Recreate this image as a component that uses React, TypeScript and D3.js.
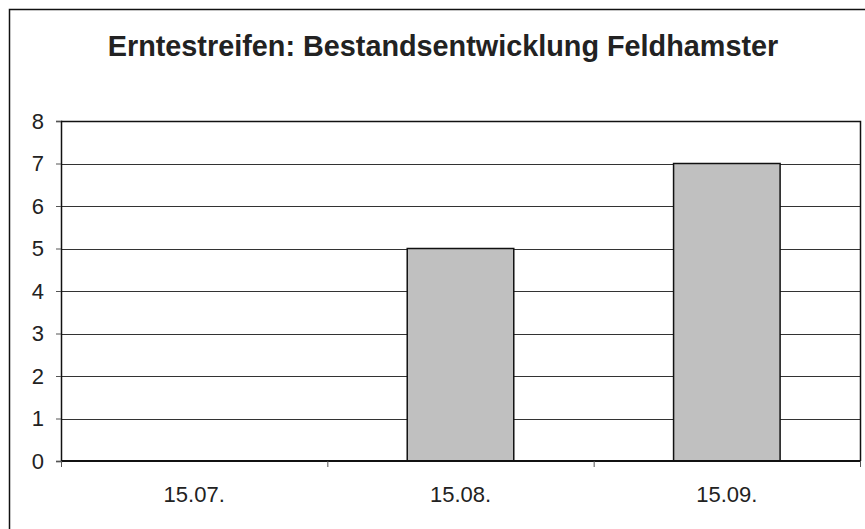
import React, { useEffect, useRef } from "react";
import * as d3 from "d3";

const categories = ["15.07.", "15.08.", "15.09."];
const values = [0, 5, 7];
const yTicks = [0, 1, 2, 3, 4, 5, 6, 7, 8];
const title = "Erntestreifen: Bestandsentwicklung Feldhamster";

const App = () => {
  const ref = useRef<SVGSVGElement>(null);

  useEffect(() => {
    const svg = d3.select(ref.current);
    svg.selectAll("*").remove();

    const width = 865;
    const height = 529;
    const left = 61;
    const right = 860;
    const top = 121;
    const bottom = 461;
    const font = "'Liberation Sans', Arial, sans-serif";

    svg.append("rect").attr("width", width).attr("height", height).attr("fill", "#fff");

    // outer chart frame
    svg
      .append("rect")
      .attr("x", 9.5)
      .attr("y", 9.5)
      .attr("width", 880)
      .attr("height", 540)
      .attr("fill", "none")
      .attr("stroke", "#111")
      .attr("stroke-width", 1.5);

    svg
      .append("text")
      .attr("x", 443)
      .attr("y", 56)
      .attr("text-anchor", "middle")
      .attr("font-family", font)
      .attr("font-weight", "bold")
      .attr("font-size", 28.8)
      .attr("fill", "#222")
      .text(title);

    const x = d3.scaleBand().domain(categories).range([left, right]).paddingInner(0.6).paddingOuter(0.3);
    const xBand = d3.scaleBand().domain(categories).range([left, right]).padding(0);
    const y = d3.scaleLinear().domain([0, 8]).range([bottom, top]);

    // gridlines
    svg
      .append("g")
      .selectAll("line")
      .data(yTicks.filter((t) => t > 0 && t < 8))
      .enter()
      .append("line")
      .attr("x1", left)
      .attr("x2", right)
      .attr("y1", (d) => Math.round(y(d)) + 0.5)
      .attr("y2", (d) => Math.round(y(d)) + 0.5)
      .attr("stroke", "#333")
      .attr("stroke-width", 1);

    // plot border top & right
    svg
      .append("path")
      .attr("d", `M${left},${top + 0.5}H${right + 0.5}V${bottom}`)
      .attr("fill", "none")
      .attr("stroke", "#111")
      .attr("stroke-width", 1.5);

    // bars
    svg
      .append("g")
      .selectAll("rect")
      .data(categories.map((c, i) => ({ c, v: values[i] })).filter((d) => d.v > 0))
      .enter()
      .append("rect")
      .attr("x", (d) => x(d.c)!)
      .attr("y", (d) => y(d.v))
      .attr("width", x.bandwidth())
      .attr("height", (d) => y(0) - y(d.v))
      .attr("fill", "#c0c0c0")
      .attr("stroke", "#111")
      .attr("stroke-width", 1.5);

    // y axis
    const yAxis = svg
      .append("g")
      .attr("transform", `translate(${left},0)`)
      .call(d3.axisLeft(y).tickValues(yTicks).tickSize(5).tickPadding(12).tickFormat(d3.format("d")));
    yAxis.select(".domain").attr("stroke", "#111").attr("stroke-width", 1.5);
    yAxis.selectAll(".tick line").attr("stroke", "#555");
    yAxis
      .selectAll("text")
      .attr("font-family", font)
      .attr("font-size", 22)
      .attr("fill", "#222");

    // x axis
    const xAxis = svg.append("g").attr("transform", `translate(0,${bottom})`);
    xAxis
      .append("line")
      .attr("x1", left)
      .attr("x2", right)
      .attr("stroke", "#111")
      .attr("stroke-width", 2);
    xAxis
      .selectAll("line.tk")
      .data([...categories.map((c) => xBand(c)!), right])
      .enter()
      .append("line")
      .attr("class", "tk")
      .attr("x1", (d) => d + 0.5)
      .attr("x2", (d) => d + 0.5)
      .attr("y1", 0)
      .attr("y2", 6)
      .attr("stroke", "#555");
    xAxis
      .selectAll("text")
      .data(categories)
      .enter()
      .append("text")
      .attr("x", (d) => xBand(d)! + xBand.bandwidth() / 2)
      .attr("y", 41)
      .attr("text-anchor", "middle")
      .attr("font-family", font)
      .attr("font-size", 22)
      .attr("fill", "#222")
      .text((d) => d);
  }, []);

  return (
    <svg
      ref={ref}
      width={865}
      height={529}
      style={{ position: "absolute", left: 0, top: 0, display: "block" }}
    ></svg>
  );
};

export default App;
